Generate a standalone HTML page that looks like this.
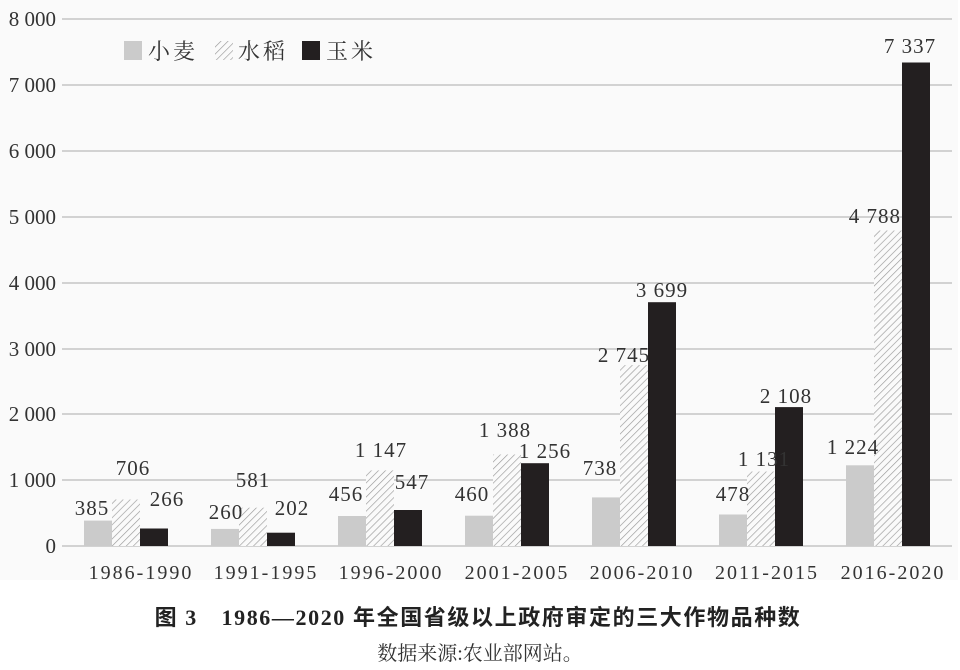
<!DOCTYPE html>
<html><head><meta charset="utf-8"><style>
html,body{margin:0;padding:0;background:#fff;}
svg{display:block;}
</style></head><body>
<svg width="960" height="670" viewBox="0 0 960 670" xmlns="http://www.w3.org/2000/svg">
<defs>
<pattern id="h" patternUnits="userSpaceOnUse" width="5" height="5" patternTransform="rotate(45)">
<rect width="5" height="5" fill="#fafafa"/>
<line x1="0" y1="0" x2="0" y2="5" stroke="#9a9a9a" stroke-width="1.3"/>
</pattern>
</defs>
<rect x="0" y="0" width="958" height="580" fill="#fafafa"/>
<g stroke="#d2d2d2" stroke-width="2">
<line x1="62" x2="952" y1="19" y2="19"/>
<line x1="62" x2="952" y1="85" y2="85"/>
<line x1="62" x2="952" y1="151" y2="151"/>
<line x1="62" x2="952" y1="217" y2="217"/>
<line x1="62" x2="952" y1="283" y2="283"/>
<line x1="62" x2="952" y1="349" y2="349"/>
<line x1="62" x2="952" y1="414" y2="414"/>
<line x1="62" x2="952" y1="480" y2="480"/>
<line x1="62" x2="952" y1="546" y2="546"/>
</g>
<g font-family="Liberation Serif, serif" font-size="21" fill="#333" text-anchor="end">
<text x="56" y="26">8 000</text>
<text x="56" y="92">7 000</text>
<text x="56" y="158">6 000</text>
<text x="56" y="224">5 000</text>
<text x="56" y="290">4 000</text>
<text x="56" y="356">3 000</text>
<text x="56" y="421">2 000</text>
<text x="56" y="487">1 000</text>
<text x="56" y="553">0</text>
</g>
<rect x="84" y="520.6" width="28" height="25.4" fill="#cbcbcb"/>
<rect x="112" y="499.5" width="28" height="46.5" fill="url(#h)"/>
<rect x="140" y="528.5" width="28" height="17.5" fill="#231f20"/>
<rect x="211" y="528.9" width="28" height="17.1" fill="#cbcbcb"/>
<rect x="239" y="507.7" width="28" height="38.3" fill="url(#h)"/>
<rect x="267" y="532.7" width="28" height="13.3" fill="#231f20"/>
<rect x="338" y="516" width="28" height="30" fill="#cbcbcb"/>
<rect x="366" y="470.4" width="28" height="75.6" fill="url(#h)"/>
<rect x="394" y="510" width="28" height="36" fill="#231f20"/>
<rect x="465" y="515.7" width="28" height="30.3" fill="#cbcbcb"/>
<rect x="493" y="454.5" width="28" height="91.5" fill="url(#h)"/>
<rect x="521" y="463.2" width="28" height="82.8" fill="#231f20"/>
<rect x="592" y="497.4" width="28" height="48.6" fill="#cbcbcb"/>
<rect x="620" y="365.1" width="28" height="180.9" fill="url(#h)"/>
<rect x="648" y="302.2" width="28" height="243.8" fill="#231f20"/>
<rect x="719" y="514.5" width="28" height="31.5" fill="#cbcbcb"/>
<rect x="747" y="471.5" width="28" height="74.5" fill="url(#h)"/>
<rect x="775" y="407.1" width="28" height="138.9" fill="#231f20"/>
<rect x="846" y="465.3" width="28" height="80.7" fill="#cbcbcb"/>
<rect x="874" y="230.5" width="28" height="315.5" fill="url(#h)"/>
<rect x="902" y="62.5" width="28" height="483.5" fill="#231f20"/>
<g font-family="Liberation Serif, serif" font-size="21" fill="#333" text-anchor="middle" letter-spacing="1">
<text x="92" y="515">385</text><text x="133" y="475">706</text><text x="167" y="506">266</text>
<text x="226" y="519">260</text><text x="253" y="487">581</text><text x="292" y="515">202</text>
<text x="346" y="501">456</text><text x="381" y="457">1 147</text><text x="412" y="489">547</text>
<text x="472" y="501">460</text><text x="505" y="437">1 388</text><text x="545" y="458">1 256</text>
<text x="600" y="475">738</text><text x="624" y="362">2 745</text><text x="662" y="297">3 699</text>
<text x="733" y="501">478</text><text x="764" y="466">1 131</text><text x="786" y="403">2 108</text>
<text x="853" y="454">1 224</text><text x="901" y="223" text-anchor="end">4 788</text><text x="910" y="53">7 337</text>
</g>
<g font-family="Liberation Serif, serif" font-size="20" fill="#333" text-anchor="middle" letter-spacing="2">
<text x="141" y="579">1986-1990</text>
<text x="266" y="579">1991-1995</text>
<text x="391" y="579">1996-2000</text>
<text x="517" y="579">2001-2005</text>
<text x="642" y="579">2006-2010</text>
<text x="767" y="579">2011-2015</text>
<text x="893" y="579">2016-2020</text>
</g>
<rect x="124" y="41" width="18" height="19" fill="#cbcbcb"/>
<rect x="215" y="41" width="18" height="19" fill="url(#h)"/>
<rect x="302" y="41" width="18" height="19" fill="#231f20"/>
<g font-family="Liberation Serif, 'Noto Serif CJK SC', serif" font-size="22" fill="#333" letter-spacing="3">
<text x="148" y="59">小麦</text>
<text x="238" y="59">水稻</text>
<text x="326" y="59">玉米</text>
</g>
<text x="478" y="625" text-anchor="middle" font-family="Liberation Serif, 'Noto Sans CJK SC', sans-serif" font-size="22" font-weight="bold" fill="#222" letter-spacing="1.6">图 3　1986—2020 年全国省级以上政府审定的三大作物品种数</text>
<text x="480" y="660" text-anchor="middle" font-family="Liberation Serif, 'Noto Serif CJK SC', serif" font-size="20" fill="#333">数据来源:农业部网站。</text>
</svg>
</body></html>
